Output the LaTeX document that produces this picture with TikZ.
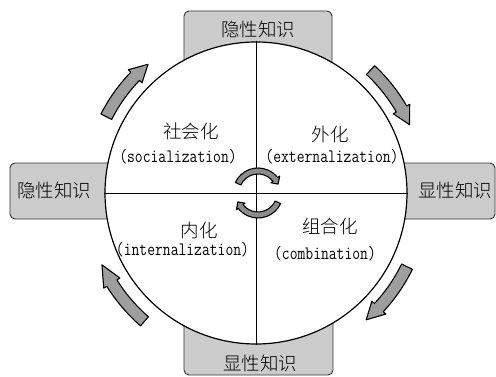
\documentclass[tikz,border=0pt]{standalone}
\usepackage{fontspec}
\IfFontExistsTF{Noto Sans CJK SC Light}
  {\newfontfamily\cjk{Noto Sans CJK SC Light}}
  {\newfontfamily\cjk{Noto Sans CJK SC}}
\newfontfamily\latinmono[FakeStretch=0.8]{Latin Modern Mono}
\usetikzlibrary{calc}
\tikzset{
  kbox/.style={draw=black!80, fill=black!20, rounded corners=5pt, line width=0.9pt, inner sep=0pt},
  cjklab/.style={font=\cjk\fontsize{18.5}{20}\selectfont, inner sep=0pt},
  enlab/.style={font=\latinmono\fontsize{19}{21}\selectfont, inner sep=0pt},
  cyc/.style={draw=black, fill=black!38, line width=1.1pt, line join=round},
  wheelsty/.style={draw=black, fill=white, circle, minimum size=302pt, inner sep=0pt, line width=1.2pt},
  axis/.style={draw=black, line width=0.9pt},
}
% #1 extra style, #2 centre, #3 radius, #4 width, #5 head extra, #6 tail angle, #7 head base angle, #8 tip angle
\newcommand{\bentarrow}[8][]{%
  \path[cyc,#1] ($(#2)+(#6:{#3+#4/2})$) arc[start angle=#6, end angle=#7, radius={#3+#4/2}]
    -- ($(#2)+(#7:{#3+#4/2+#5})$) -- ($(#2)+(#8:#3)$) -- ($(#2)+(#7:{#3-#4/2-#5})$)
    -- ($(#2)+(#7:{#3-#4/2})$) arc[start angle=#7, end angle=#6, radius={#3-#4/2}] -- cycle;}
\begin{document}
\begin{tikzpicture}[x=1pt,y=1pt]
\useasboundingbox (0,0) rectangle (496,376);
\coordinate (O) at (256,183);
\coordinate (Oc) at (258,183);
% boxes behind the wheel
\node[kbox, minimum width=148pt, minimum height=65pt] (btop) at (258,332.5) {};
\node[kbox, minimum width=149pt, minimum height=65pt] (bbot) at (258.5,33.5) {};
\node[kbox, minimum width=120pt, minimum height=56pt] (bleft) at (70,185) {};
\node[kbox, minimum width=115pt, minimum height=56pt] (bright) at (437.5,185) {};
% wheel
\node[wheelsty] (wheel) at (O) {};
\draw[axis] (wheel.north) -- (wheel.south);
\draw[axis] (wheel.west) -- (wheel.east);
% outer cycle arrows
\bentarrow{O}{168}{12}{3.5}{153}{136}{130}
\bentarrow{O}{168}{12}{3.5}{47}{30}{24}
\bentarrow{O}{168}{12}{3.5}{-26}{-43}{-49}
\bentarrow{O}{170}{12}{3.5}{-131}{-148}{-155}
% inner arrows
\bentarrow[fill=black!45]{Oc}{22}{6}{2.5}{155}{38}{24}
\bentarrow[fill=black!45]{Oc}{22}{6}{2.5}{-25}{-142}{-156}
% box labels
\node[cjklab] (ltop) at (258,346.5) {隐性知识};
\node[cjklab] (lleft) at (54,186) {隐性知识};
\node[cjklab] (lright) at (455,186) {显性知识};
\node[cjklab] (lbot) at (260,13) {显性知识};
% quadrant labels
\node[cjklab] (q1a) at (191,245) {社会化};
\node[enlab] (q1b) at (178,219) {(socialization)};
\node[cjklab] (q2a) at (330,241.5) {外化};
\node[enlab] (q2b) at (332,219) {(externalization)};
\node[cjklab] (q3a) at (199,146) {内化};
\node[enlab] (q3b) at (182.5,126) {(internalization)};
\node[cjklab] (q4a) at (330,149.5) {组合化};
\node[enlab] (q4b) at (325,122) {(combination)};
\end{tikzpicture}
\end{document}
